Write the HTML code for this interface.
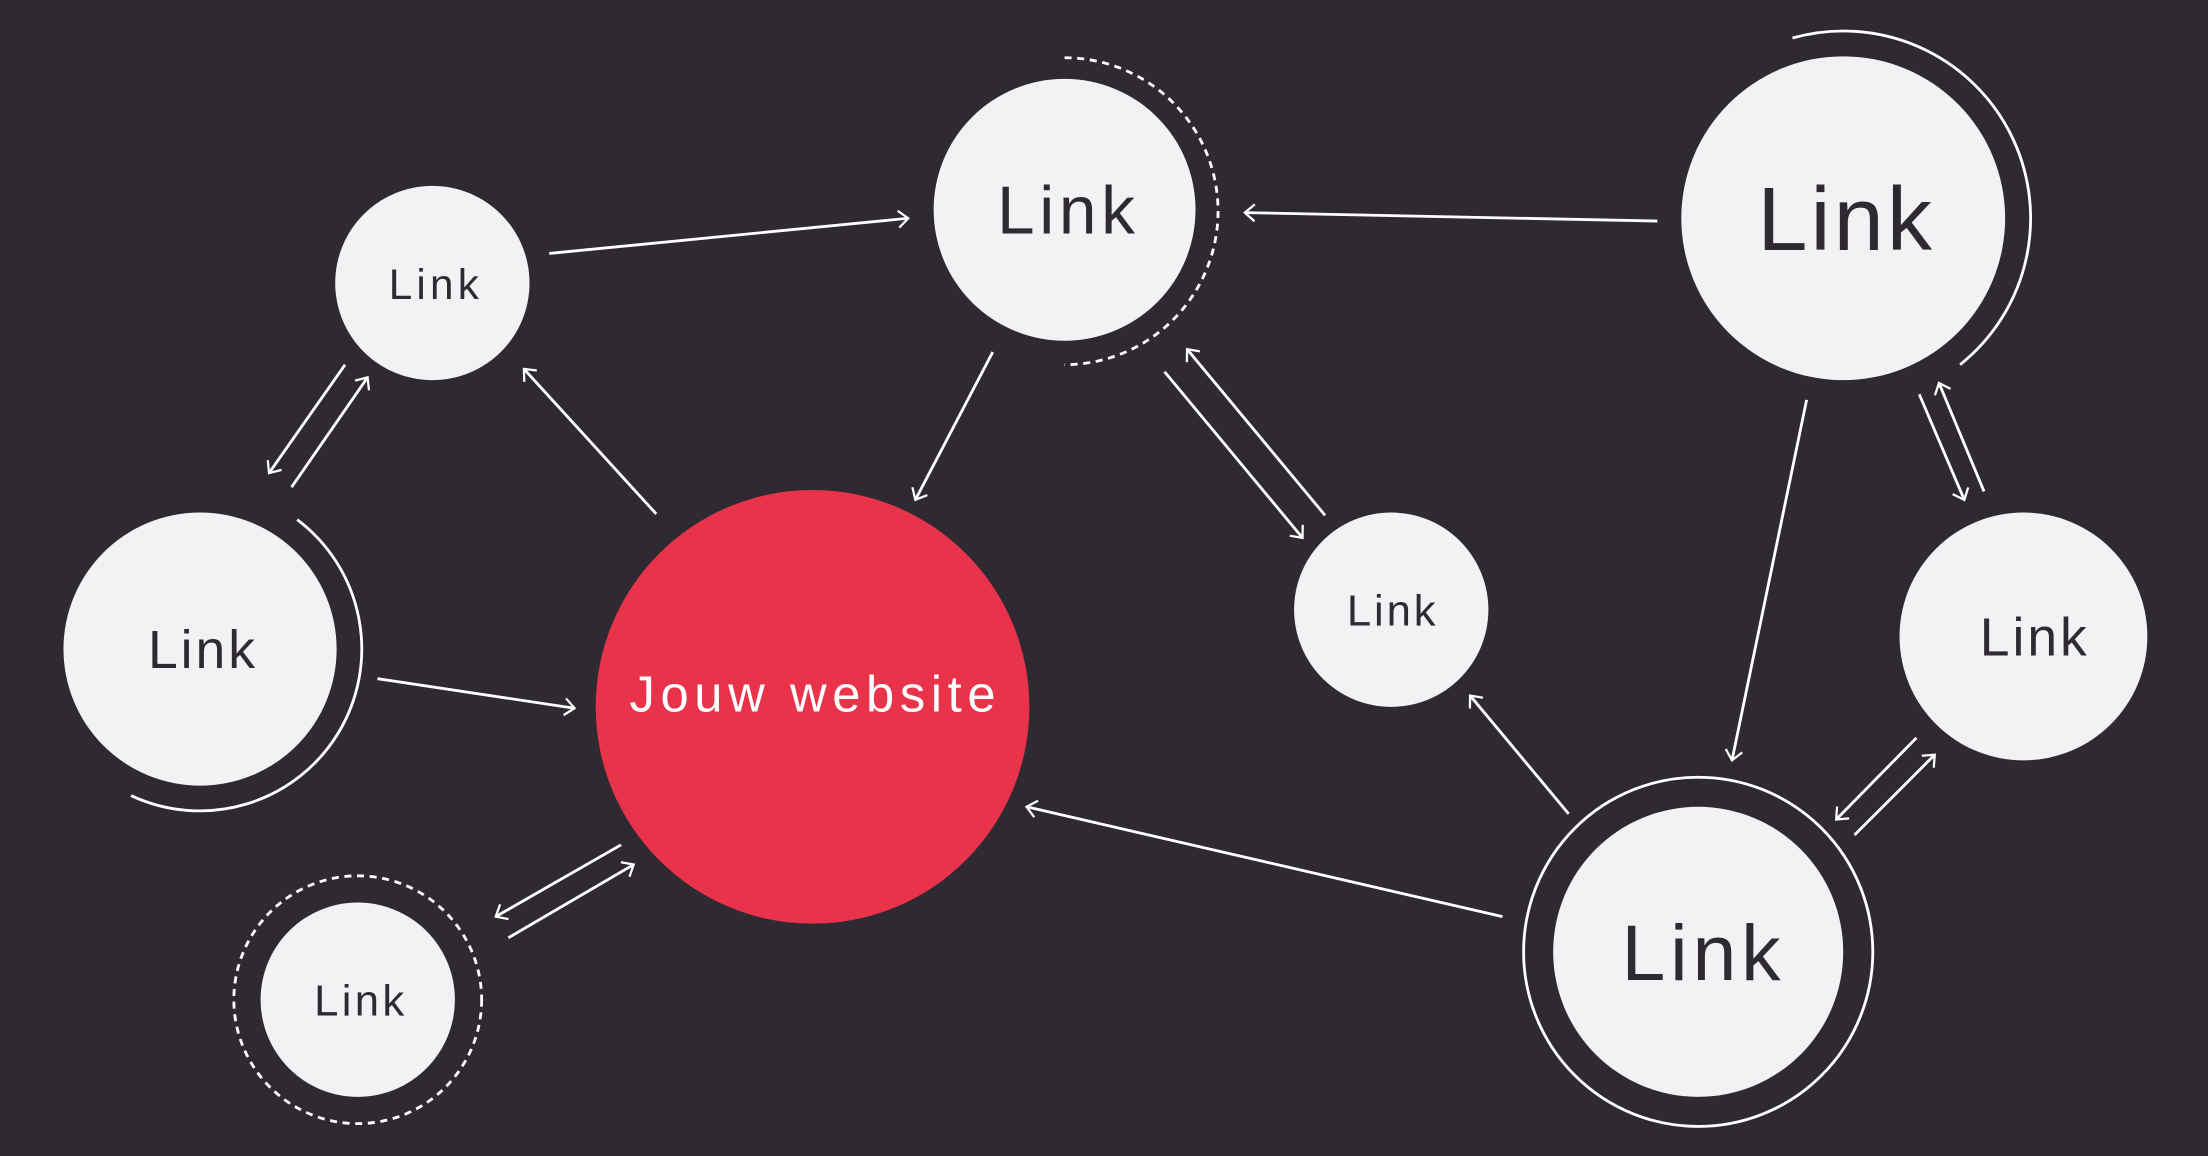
<!DOCTYPE html>
<html><head><meta charset="utf-8"><style>
html,body{margin:0;padding:0;background:#2f2a32;}
svg{display:block}
text{font-family:"Liberation Sans",sans-serif;text-anchor:middle;dominant-baseline:central;fill:#2f2a32}
</style></head><body>
<svg width="2208" height="1156" viewBox="0 0 1568 821" xmlns="http://www.w3.org/2000/svg">
<defs>
<marker id="a" markerUnits="userSpaceOnUse" markerWidth="20" markerHeight="20" refX="10" refY="10" orient="auto">
<path d="M3,4 L10,10 L3,16" fill="none" stroke="#fff" stroke-width="1.6"/>
</marker>
</defs>
<rect width="1568" height="821" fill="#2f2a32"/>
<g stroke="#fff" stroke-width="2" fill="none">
<path d="M756,41 A109,109 0 0 1 756,259" stroke-dasharray="5,4"/>
<path d="M1273,27 A133,133 0 0 1 1392,259"/>
<path d="M211,369 A115,115 0 0 1 93,565"/>
<circle cx="254" cy="710" r="88" stroke-dasharray="5,4"/>
<circle cx="1206" cy="676" r="124"/>
</g>
<g fill="#f1f2f4">
<circle cx="307" cy="201" r="69"/>
<circle cx="756" cy="149" r="93"/>
<circle cx="1309" cy="155" r="115"/>
<circle cx="142" cy="461" r="97"/>
<circle cx="254" cy="710" r="69"/>
<circle cx="988" cy="433" r="69"/>
<circle cx="1437" cy="452" r="88"/>
<circle cx="1206" cy="676" r="103"/>
</g>
<circle cx="577" cy="502" r="154" fill="#e8334a"/>
<g stroke="#fff" stroke-width="2" marker-end="url(#a)">
<line x1="390" y1="180" x2="645" y2="155"/>
<line x1="1177" y1="157" x2="884" y2="151"/>
<line x1="705" y1="250" x2="650" y2="355"/>
<line x1="466" y1="365" x2="372" y2="262"/>
<line x1="245" y1="259" x2="191" y2="336"/>
<line x1="207" y1="346" x2="261" y2="268"/>
<line x1="268" y1="482" x2="408" y2="503"/>
<line x1="441" y1="600" x2="352" y2="651"/>
<line x1="361" y1="666" x2="450" y2="614"/>
<line x1="827" y1="264" x2="925" y2="382"/>
<line x1="941" y1="366" x2="843" y2="248"/>
<line x1="1283" y1="284" x2="1230" y2="540"/>
<line x1="1363" y1="280" x2="1395" y2="355"/>
<line x1="1409" y1="349" x2="1377" y2="272"/>
<line x1="1114" y1="578" x2="1044" y2="494"/>
<line x1="1067" y1="651" x2="729" y2="573"/>
<line x1="1361" y1="524" x2="1304" y2="582"/>
<line x1="1317" y1="593" x2="1374" y2="536"/>
</g>
<text x="308" y="202" font-size="30" textLength="64" lengthAdjust="spacing">Link</text>
<text x="757" y="150" font-size="48" textLength="98" lengthAdjust="spacing">Link</text>
<text x="1310" y="156" font-size="64" textLength="124" lengthAdjust="spacing">Link</text>
<text x="143" y="462" font-size="38" textLength="76" lengthAdjust="spacing">Link</text>
<text x="255" y="711" font-size="31" textLength="64" lengthAdjust="spacing">Link</text>
<text x="988" y="434" font-size="31" textLength="63" lengthAdjust="spacing">Link</text>
<text x="1444" y="453" font-size="38" textLength="76" lengthAdjust="spacing">Link</text>
<text x="1208" y="677" font-size="56" textLength="113" lengthAdjust="spacing">Link</text>
<text x="577" y="493" font-size="36" textLength="260" lengthAdjust="spacing" style="fill:#fff">Jouw website</text>
</svg>
</body></html>
